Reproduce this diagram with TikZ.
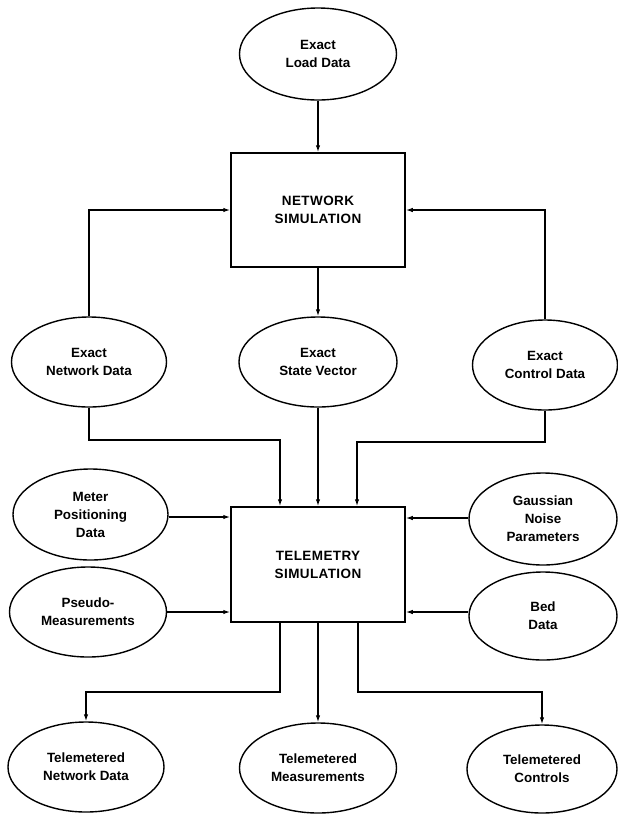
\documentclass[tikz,border=0pt]{standalone}
\usepackage{fontspec}
\setmainfont{Liberation Sans}
\newfontfamily\boxfont{Liberation Sans}[LetterSpace=3]
\usetikzlibrary{shapes.geometric,arrows.meta}
\begin{document}
\begin{tikzpicture}[x=1pt,y=-1pt,
  oval/.style={draw,ellipse,line width=1.4pt,inner sep=0pt,align=center,
    font=\fontsize{13.4}{18}\selectfont\bfseries},
  simbox/.style={draw,rectangle,line width=1.5pt,inner sep=0pt,align=center,
    minimum width=174pt,minimum height=114pt,font=\fontsize{13.5}{18}\selectfont\boxfont\bfseries},
  conn/.style={line width=1.3pt,-{Latex[length=7pt,width=4.5pt]}}]
\useasboundingbox (0,0) rectangle (618,815);
% nodes
\node[oval,minimum width=157pt,minimum height=92pt] (load) at (318,54) {Exact\\Load Data};
\node[simbox] (netsim) at (318,210) {NETWORK\\SIMULATION};
\node[oval,minimum width=155pt,minimum height=90pt] (netdata) at (89,362) {Exact\\Network Data};
\node[oval,minimum width=158pt,minimum height=90pt] (state) at (318,362) {Exact\\State Vector};
\node[oval,minimum width=145pt,minimum height=90pt] (control) at (545,365) {Exact\\Control Data};
\node[oval,minimum width=155pt,minimum height=91pt] (meter) at (90.5,514.5) {Meter\\Positioning\\Data};
\node[oval,minimum width=157pt,minimum height=90pt] (pseudo) at (88,612) {Pseudo-\\Measurements};
\node[simbox,minimum height=115pt] (telsim) at (318,564.5) {TELEMETRY\\SIMULATION};
\node[oval,minimum width=148pt,minimum height=92pt] (gauss) at (543,519) {Gaussian\\Noise\\Parameters};
\node[oval,minimum width=148pt,minimum height=88pt] (bed) at (543,616) {Bed\\Data};
\node[oval,minimum width=156pt,minimum height=90pt] (telnet) at (86,767) {Telemetered\\Network Data};
\node[oval,minimum width=157pt,minimum height=90pt] (telmeas) at (318,768) {Telemetered\\Measurements};
\node[oval,minimum width=150pt,minimum height=88pt] (telctrl) at (542,769) {Telemetered\\Controls};
% junction coordinates
\coordinate (jnd) at (280,440);
\coordinate (jcd) at (357,442);
\coordinate (jtn) at (280,692);
\coordinate (jtc) at (358,692);
% connectors
\draw[conn] (load.south) -- (netsim.north);
\draw[conn] (netdata.north) |- (netsim.west);
\draw[conn] (control.north) |- (netsim.east);
\draw[conn] (netsim.south) -- (state.north);
\draw[conn] (netdata.south) |- (jnd) -- (jnd |- telsim.north);
\draw[conn] (state.south) -- (telsim.north);
\draw[conn] (control.south) |- (jcd) -- (jcd |- telsim.north);
\draw[conn] (meter.east |- 0,517) -- (telsim.west |- 0,517);
\draw[conn] (pseudo.east) -- (telsim.west |- pseudo.east);
\draw[conn] (gauss.west |- 0,518) -- (telsim.east |- 0,518);
\draw[conn] (bed.west |- 0,612) -- (telsim.east |- 0,612);
\draw[conn] (jtn |- telsim.south) -- (jtn) -| (telnet.north);
\draw[conn] (telsim.south) -- (telmeas.north);
\draw[conn] (jtc |- telsim.south) -- (jtc) -| (telctrl.north);
\end{tikzpicture}
\end{document}
